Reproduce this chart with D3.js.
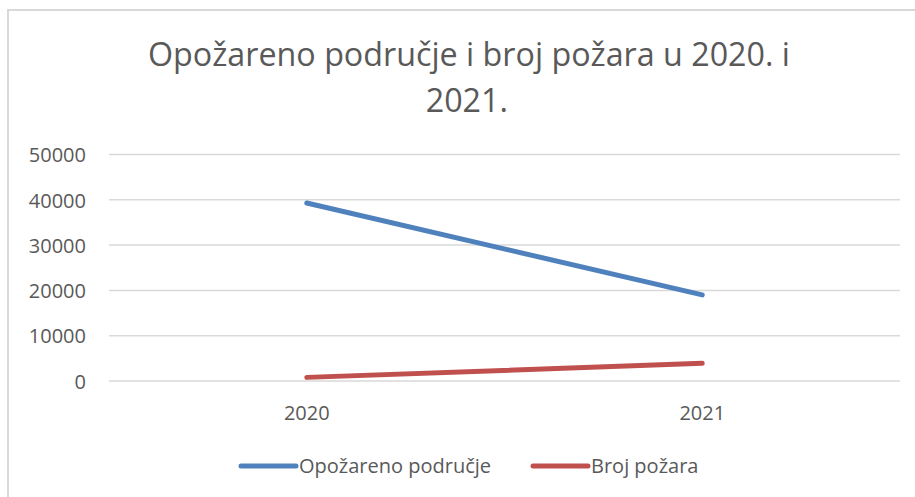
<!DOCTYPE html>
<html><head><meta charset="utf-8">
<script src="https://cdn.jsdelivr.net/npm/d3@7"></script>
<style>html,body{margin:0;padding:0;background:#fff;overflow:hidden}</style>
</head><body>
<script>
const categories = ["2020", "2021"];
const seriesNames = ["Opožareno područje", "Broj požara"];
const burnedArea = [39300, 19000];
const fireCount = [800, 3900];
const yTicks = [0, 10000, 20000, 30000, 40000, 50000];
const titleLines = ["Opožareno područje i broj požara u 2020. i", "2021."];
const colors = ["#4f81bd", "#c0504d"];

const W = 915, H = 497;
const svg = d3.select("body").append("svg").attr("width", W).attr("height", H);

svg.append("rect").attr("x", 8).attr("y", 10).attr("width", W).attr("height", H)
  .attr("fill", "#fff").attr("stroke", "#d9d9d9").attr("stroke-width", 2);

const x = d3.scaleBand().domain(categories).range([109, 900]);
const y = d3.scaleLinear().domain([0, 50000]).range([381, 154.5]);

// gridlines
svg.append("g").selectAll("line").data(yTicks).join("line")
  .attr("x1", 109).attr("x2", 900)
  .attr("y1", d => y(d)).attr("y2", d => y(d))
  .attr("stroke", "#d9d9d9").attr("stroke-width", 1.5);

// y axis
const yAxis = svg.append("g").attr("transform", "translate(86,0)")
  .call(d3.axisLeft(y).tickValues(yTicks).tickSize(0).tickPadding(0).tickFormat(d3.format("d")));
yAxis.select(".domain").remove();
yAxis.selectAll("text").attr("font-family", "'Open Sans', sans-serif").attr("font-size", 20)
  .attr("fill", "#595959").attr("dy", "0.36em");

// x axis
const xAxis = svg.append("g").attr("transform", "translate(0,381)")
  .call(d3.axisBottom(x).tickSize(0).tickPadding(0));
xAxis.select(".domain").remove();
xAxis.selectAll("text").attr("font-family", "'Open Sans', sans-serif").attr("font-size", 20)
  .attr("fill", "#595959").attr("dy", null).attr("y", 39);

const cx = d => x(d) + x.bandwidth() / 2;
const line = d3.line().x((d, i) => cx(categories[i])).y(d => y(d));
[burnedArea, fireCount].forEach((s, k) => {
  svg.append("path").datum(s).attr("d", line).attr("fill", "none")
    .attr("stroke", colors[k]).attr("stroke-width", 5).attr("stroke-linecap", "round");
});

// title
const tfont = "'Open Sans', sans-serif";
const t1 = svg.append("text").attr("font-family", tfont).attr("font-size", 33).attr("fill", "#595959")
  .attr("x", 148).attr("y", 66).text(titleLines[0]);
const nat1 = t1.node().getComputedTextLength();
const ratio = 642 / nat1;
t1.attr("textLength", 642).attr("lengthAdjust", "spacingAndGlyphs");
const t2 = svg.append("text").attr("font-family", tfont).attr("font-size", 33).attr("fill", "#595959")
  .attr("y", 112).text(titleLines[1]);
const nat2 = t2.node().getComputedTextLength();
const w2 = nat2 * ratio;
t2.attr("x", 508 - w2).attr("textLength", w2).attr("lengthAdjust", "spacingAndGlyphs");

// legend
const legX = [241, 533];
seriesNames.forEach((n, k) => {
  const g = svg.append("g");
  g.append("line").attr("x1", legX[k]).attr("x2", legX[k] + 55).attr("y1", 466).attr("y2", 466)
    .attr("stroke", colors[k]).attr("stroke-width", 5).attr("stroke-linecap", "round");
  g.append("text").attr("x", legX[k] + 58).attr("y", 473).attr("font-family", tfont).attr("font-size", 20)
    .attr("fill", "#595959").text(n);
});
</script>
</body></html>
